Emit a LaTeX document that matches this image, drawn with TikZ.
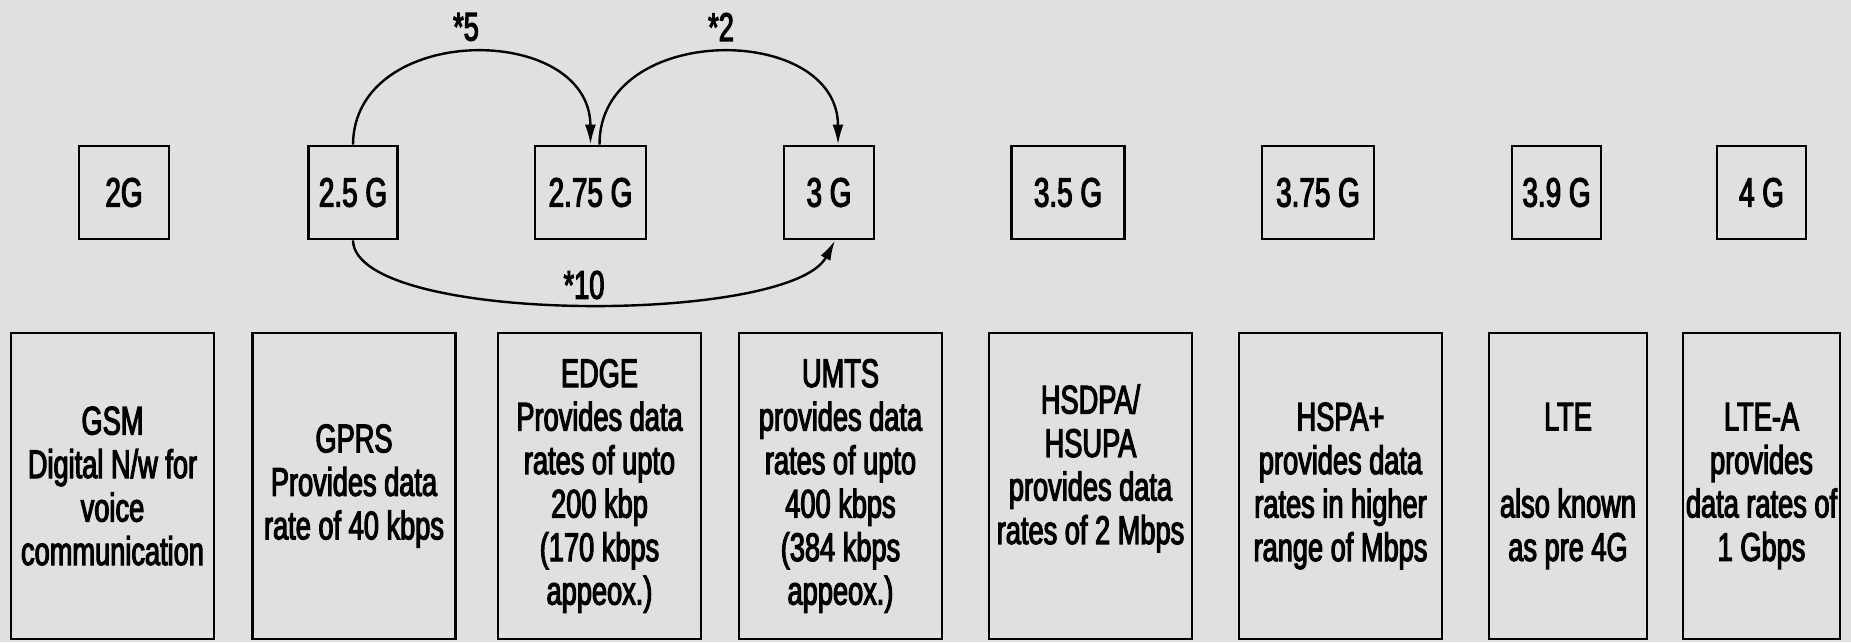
\documentclass[tikz,border=0pt]{standalone}
\usepackage{fontspec}
\setmainfont{Liberation Sans}[FakeStretch=0.68,UprightFeatures={FakeBold=2.8}]
\usetikzlibrary{arrows.meta}
\definecolor{paper}{RGB}{224,224,224}
\begin{document}
\begin{tikzpicture}[x=1pt,y=-1pt,
  gen/.style={draw=black,line width=2.8pt,inner sep=0pt,align=center,
    font=\fontsize{41}{44}\selectfont,minimum height=93pt},
  tech/.style={draw=black,line width=2.8pt,inner sep=0pt,align=center,
    font=\fontsize{40}{43.5}\selectfont,minimum height=306pt,minimum width=203pt},
  jump/.style={line width=2.4pt,-{Latex[length=20pt,width=11pt]}},
  factor/.style={font=\fontsize{40}{40}\selectfont,inner sep=0pt}]
\fill[paper] (0,0) rectangle (1851,642);
\useasboundingbox (0,0) rectangle (1851,642);

% generations
\node[gen,minimum width=90pt]  (g2)   at (124,192.5)    {2G};
\node[gen,minimum width=89pt]  (g25)  at (353,192.5)    {2.5 G};
\node[gen,minimum width=111pt] (g275) at (590.5,192.5)  {2.75 G};
\node[gen,minimum width=90pt]  (g3)   at (829,192.5)    {3 G};
\node[gen,minimum width=113pt] (g35)  at (1068,192.5)   {3.5 G};
\node[gen,minimum width=112pt] (g375) at (1318,192.5)   {3.75 G};
\node[gen,minimum width=89pt]  (g39)  at (1556.5,192.5) {3.9 G};
\node[gen,minimum width=89pt]  (g4)   at (1761.5,192.5) {4 G};

% technologies
\node[tech] (gsm)   at (112.5,486)  {GSM\\Digital N/w for\\voice\\communication};
\node[tech] (gprs)  at (354,486)    {GPRS\\Provides data\\rate of 40 kbps};
\node[tech] (edge)  at (599.5,486)  {EDGE\\Provides data\\rates of upto\\200 kbp\\(170 kbps\\appeox.)};
\node[tech] (umts)  at (840.5,486)  {UMTS\\provides data\\rates of upto\\400 kbps\\(384 kbps\\appeox.)};
\node[tech] (hsdpa) at (1090.5,486) {HSDPA/\\HSUPA\\provides data\\rates of 2 Mbps\\\mbox{}};
\node[tech] (hspa)  at (1340.5,486) {HSPA+\\provides data\\rates in higher\\range of Mbps};
\node[tech,minimum width=158pt] (lte)  at (1568,486)   {LTE\\\mbox{}\\also known\\as pre 4G};
\node[tech,minimum width=157pt] (ltea) at (1761.5,486) {LTE-A\\provides\\data rates of\\1 Gbps};

% speed-up arrows
\draw[jump] (g25.north) .. controls (354,22) and (590,22) .. (g275.north);
\draw[jump] ([xshift=9pt]g275.north) .. controls (599,22) and (838,22) .. ([xshift=9pt]g3.north);
\draw[jump] (g25.south) .. controls (355,325) and (790,325) .. ([xshift=6pt]g3.south);

\node[factor] (f5)  at (466,27)  {*5};
\node[factor] (f2)  at (721,27)  {*2};
\node[factor] (f10) at (584,285) {*10};
\end{tikzpicture}
\end{document}
